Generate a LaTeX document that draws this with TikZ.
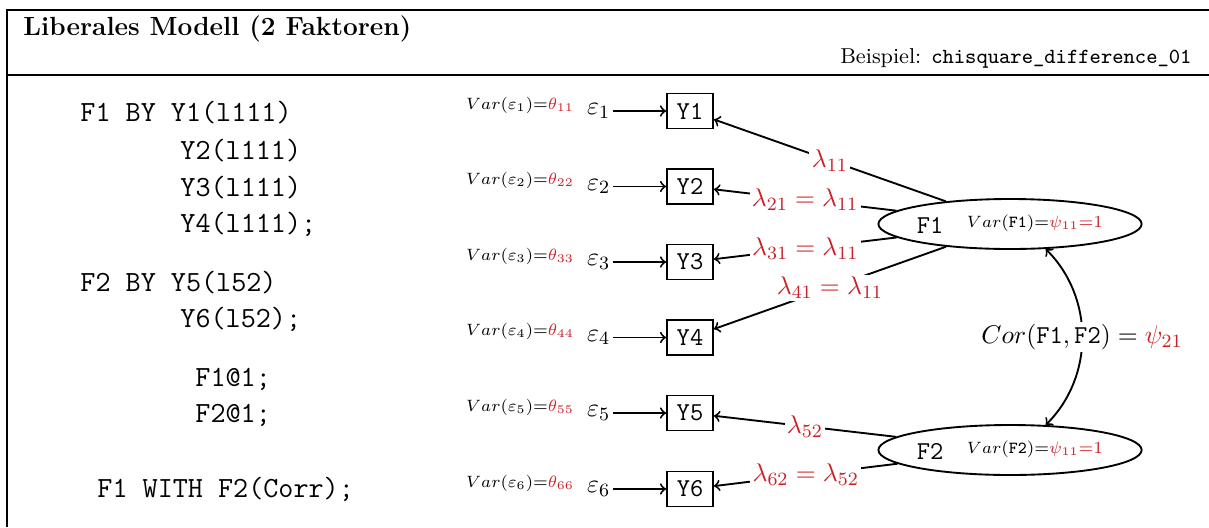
\documentclass[tikz,border=0pt]{standalone}
\usepackage{xcolor}
\usetikzlibrary{shapes.geometric}
\definecolor{parred}{RGB}{204,32,39}
\tikzset{
  ind/.style={draw, thick, minimum width=0.69cm, minimum height=0.525cm, inner sep=0pt, font=\fontsize{11}{13}\selectfont\ttfamily},
  fac/.style={draw, thick, ellipse, minimum width=3.945cm, minimum height=0.75cm, inner sep=0pt, font=\fontsize{11}{13}\selectfont},
  err/.style={inner sep=1pt, font=\fontsize{11}{13}\selectfont},
  varlab/.style={inner sep=0pt, font=\fontsize{7.2}{9}\selectfont},
  code/.style={anchor=base west, inner sep=0pt, font=\fontsize{12.5}{15}\selectfont\ttfamily},
  load/.style={->, thick},
  lbl/.style={midway, fill=white, inner sep=1pt, text=parred, font=\fontsize{11}{13}\selectfont},
  frame/.style={line width=1.2pt}
}

\begin{document}
\begin{tikzpicture}[x=1cm,y=1cm]
  \useasboundingbox (0,0) rectangle (18.135,-7.905);

  % header
  \draw[frame] (0.105,-7.905) -- (0.105,-0.15) -- (18.135,-0.15);
  \draw[frame] (0.105,-1.125) -- (18.135,-1.125);
  \node[anchor=base west, inner sep=0pt, font=\fontsize{11.2}{13}\selectfont\bfseries] (title) at (0.345,-0.525) {Liberales Modell (2 Faktoren)};
  \node[anchor=east, inner sep=0pt, font=\fontsize{9.2}{11}\selectfont] (bsp) at (17.88,-0.87) {Beispiel: \texttt{chisquare\_difference\_01}};

  % Mplus input
  \node[code] (c1) at (1.2,-1.815) {F1 BY Y1(l111)};
  \node[code] (c2) at (2.7,-2.385) {Y2(l111)};
  \node[code] (c3) at (2.7,-2.94) {Y3(l111)};
  \node[code] (c4) at (2.7,-3.48) {Y4(l111);};
  \node[code] (c5) at (1.2,-4.365) {F2 BY Y5(l52)};
  \node[code] (c6) at (2.7,-4.905) {Y6(l52);};
  \node[code] (c7) at (2.925,-5.79) {F1@1;};
  \node[code] (c8) at (2.925,-6.33) {F2@1;};
  \node[code] (c9) at (1.455,-7.455) {F1 WITH F2(Corr);};

  % indicators
  \node[ind] (y1) at (10.35,-1.665) {Y1};
  \node[ind] (y2) at (10.35,-2.7975) {Y2};
  \node[ind] (y3) at (10.35,-3.93) {Y3};
  \node[ind] (y4) at (10.35,-5.0625) {Y4};
  \node[ind] (y5) at (10.35,-6.195) {Y5};
  \node[ind] (y6) at (10.35,-7.335) {Y6};

  % residuals
  \node[err, anchor=east] (e1) at (9.195,-1.665) {$\varepsilon_1$};
  \node[err, anchor=east] (e2) at (9.195,-2.7975) {$\varepsilon_2$};
  \node[err, anchor=east] (e3) at (9.195,-3.93) {$\varepsilon_3$};
  \node[err, anchor=east] (e4) at (9.195,-5.0625) {$\varepsilon_4$};
  \node[err, anchor=east] (e5) at (9.195,-6.195) {$\varepsilon_5$};
  \node[err, anchor=east] (e6) at (9.195,-7.335) {$\varepsilon_6$};

  \node[varlab] (v1) at (7.8,-1.575) {$Var(\varepsilon_1)$=\textcolor{parred}{$\theta_{11}$}};
  \node[varlab] (v2) at (7.8,-2.7075) {$Var(\varepsilon_2)$=\textcolor{parred}{$\theta_{22}$}};
  \node[varlab] (v3) at (7.8,-3.84) {$Var(\varepsilon_3)$=\textcolor{parred}{$\theta_{33}$}};
  \node[varlab] (v4) at (7.8,-4.9725) {$Var(\varepsilon_4)$=\textcolor{parred}{$\theta_{44}$}};
  \node[varlab] (v5) at (7.8,-6.105) {$Var(\varepsilon_5)$=\textcolor{parred}{$\theta_{55}$}};
  \node[varlab] (v6) at (7.8,-7.245) {$Var(\varepsilon_6)$=\textcolor{parred}{$\theta_{66}$}};

  \draw[load] (e1) -- (y1);
  \draw[load] (e2) -- (y2);
  \draw[load] (e3) -- (y3);
  \draw[load] (e4) -- (y4);
  \draw[load] (e5) -- (y5);
  \draw[load] (e6) -- (y6);

  % factors
  \node[fac] (f1) at (15.15,-3.36) {\texttt{F1}\hspace{10pt}\raisebox{2.5pt}{\fontsize{7.2}{9}\selectfont $Var$(\texttt{F1})=\textcolor{parred}{$\psi_{11}$=1}}};
  \node[fac] (f2) at (15.15,-6.75) {\texttt{F2}\hspace{10pt}\raisebox{2.5pt}{\fontsize{7.2}{9}\selectfont $Var$(\texttt{F2})=\textcolor{parred}{$\psi_{11}$=1}}};

  \draw[load] (f1) -- node[lbl]{$\lambda_{11}$} (y1);
  \draw[load] (f1) -- node[lbl]{$\lambda_{21}=\lambda_{11}$} (y2);
  \draw[load] (f1) -- node[lbl]{$\lambda_{31}=\lambda_{11}$} (y3);
  \draw[load] (f1) -- node[lbl]{$\lambda_{41}=\lambda_{11}$} (y4);
  \draw[load] (f2) -- node[lbl]{$\lambda_{52}$} (y5);
  \draw[load] (f2) -- node[lbl]{$\lambda_{62}=\lambda_{52}$} (y6);

  \draw[<->, thick] (f1.-35) to[bend left=45] node[lbl, text=black]{$Cor(\texttt{F1},\texttt{F2})=\textcolor{parred}{\psi_{21}}$} (f2.35);
\end{tikzpicture}
\end{document}
